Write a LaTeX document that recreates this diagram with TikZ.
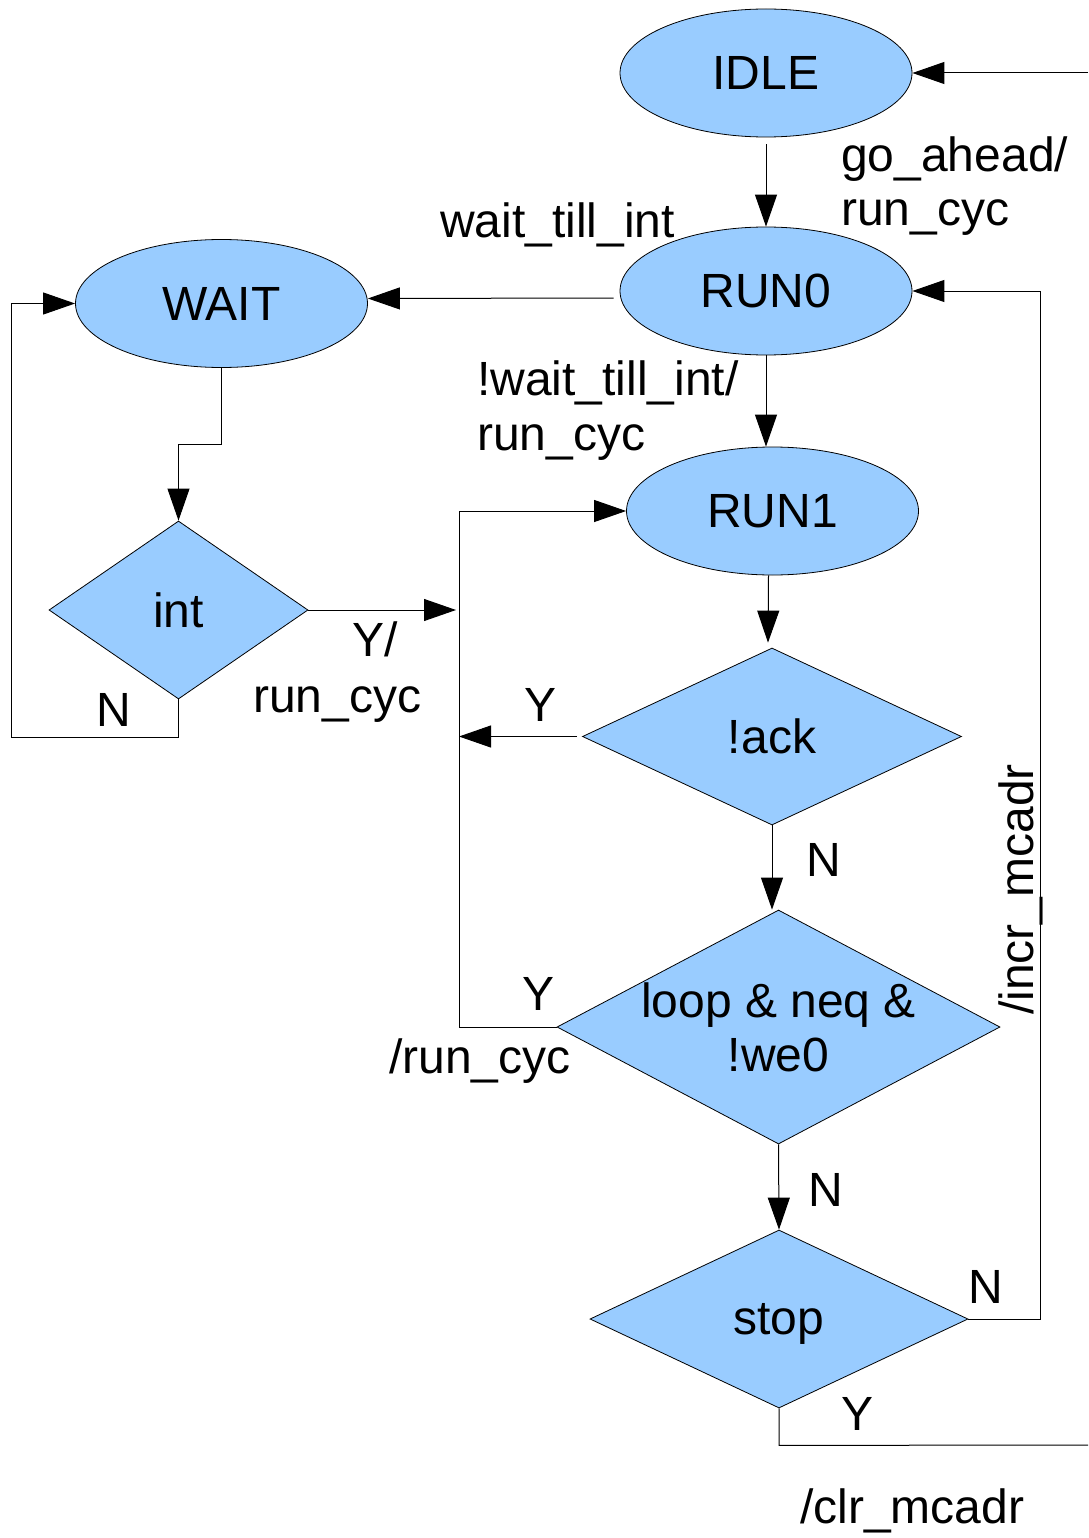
\documentclass[tikz,border=0pt]{standalone}
\usepackage{fontspec}
\setmainfont{Liberation Sans}
\usetikzlibrary{shapes.geometric,arrows.meta}
\definecolor{stateblue}{HTML}{99CCFF}

\begin{document}
\begin{tikzpicture}[x=1pt,y=-1pt,
  every node/.style={font=\fontsize{48}{54}\selectfont},
  state/.style={ellipse, draw, fill=stateblue, line width=0.8pt,
    minimum width=292pt, minimum height=128pt, inner sep=0pt},
  decision/.style 2 args={diamond, draw, fill=stateblue, line width=0.8pt,
    inner sep=0pt, minimum width=#1, minimum height=#2},
  arr/.style={line width=1pt, -{Triangle[length=32pt,width=22pt]}},
  wire/.style={line width=1pt},
  lbl/.style={anchor=base west, inner sep=0pt}]

% page area
\path[fill=white, use as bounding box] (0,0) rectangle (1088,1538);

% states
\node[state] (idle) at (766,73) {IDLE};
\node[state] (run0) at (766,291) {RUN0};
\node[state] (wait) at (221.5,303.5) {WAIT};
\node[state] (run1) at (772.5,511) {RUN1};

% decisions
\node[decision={259pt}{178pt}, label={center:int}] (int) at (178.5,610) {};
\node[decision={379pt}{177pt}, label={center:!ack}] (ack) at (772,736.5) {};
\node[decision={443pt}{234pt}, label={[align=center]center:{loop \& neq \&\\!we0}}] (loop) at (778.5,1027) {};
\node[decision={378pt}{178pt}, label={[yshift=-5pt]center:stop}] (stop) at (779,1319) {};

% free ends and corners of the connectors
\coordinate (idleIn) at (1088,73);
\coordinate (busB) at (459,1027);
\coordinate (incrCorner) at (1040,1319);
\coordinate (clrEnd) at (1088,1445);

% connectors
\draw[arr] (idleIn) -- (idle.east);
\draw[arr, shorten <=7pt] (idle.south) -- (run0.north);
\draw[arr] ([xshift=-6pt,yshift=-7pt]run0.west) -- ([yshift=5pt]wait.east);
\draw[arr] (wait.south) -- ++(0,77) -| (int.north);
\draw[arr] (int.south) -- ++(0,38) -| ([xshift=-64pt]wait.west) -- (wait.west);
\draw[arr] (int.east) -- ([xshift=-3pt]int.east -| busB);
\draw[arr] (run0.south) -- (run0.south |- run1.north);
\draw[arr] ([xshift=-4pt]run1.south) -- ([xshift=-4pt,yshift=5pt]ack.north);
\draw[arr] ([xshift=-5pt]ack.west) -- (ack.west -| busB);
\draw[arr] (ack.south) -- (ack.south |- loop.north);
\draw[arr] (loop.west) -- (busB) |- (run1.west);
\draw[arr] (loop.south) -- (stop.north);
\draw[arr] (stop.east) -- (incrCorner) |- (run0.east);
\draw[wire] (stop.south) -- ++(0,37) -- (clrEnd);

% transition labels
\node[lbl] (lGo) at (841,172) {go\_ahead/};
\node[lbl] (lGoRun) at (841,226) {run\_cyc};
\node[lbl] (lWaitTill) at (440,238) {wait\_till\_int};
\node[lbl] (lNotWait) at (477,395) {!wait\_till\_int/};
\node[lbl] (lNotWaitRun) at (477,450) {run\_cyc};
\node[lbl] (lIntN) at (96,726) {N};
\node[lbl] (lIntY) at (352,656) {Y/};
\node[lbl] (lIntRun) at (253,712) {run\_cyc};
\node[lbl] (lAckY) at (524,721) {Y};
\node[lbl] (lAckN) at (806,876) {N};
\node[lbl] (lLoopY) at (522,1010) {Y};
\node[lbl] (lLoopRun) at (389,1073) {/run\_cyc};
\node[lbl] (lLoopN) at (808,1206) {N};
\node[lbl] (lStopN) at (968,1303) {N};
\node[lbl] (lStopY) at (841,1430) {Y};
\node[lbl] (lClr) at (800,1523) {/clr\_mcadr};
\node[lbl, rotate=90] (lIncr) at (1033,1015) {/incr\_mcadr};
\end{tikzpicture}
\end{document}
